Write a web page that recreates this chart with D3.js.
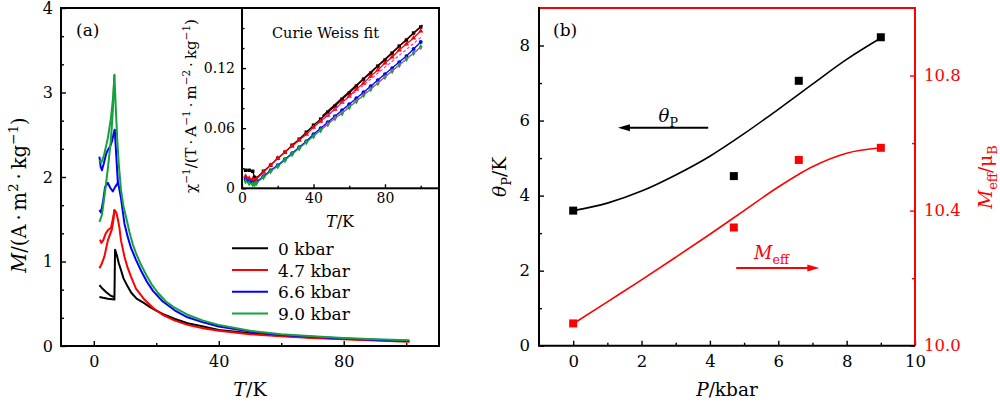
<!DOCTYPE html>
<html>
<head>
<meta charset="utf-8">
<script src="https://cdn.jsdelivr.net/npm/d3@7"></script>
<style>
body { margin: 0; background: #fff; }
svg text { font-family: "DejaVu Serif", serif; }
</style>
</head>
<body>
<svg id="chart" width="1000" height="407"></svg>
<script>
// ---- panel (a) data: M(T) per pressure, [T, M] pairs
var pressures = ["0 kbar", "4.7 kbar", "6.6 kbar", "9.0 kbar"];

var m0Lower = [[1.8,0.58],[3,0.57],[4.5,0.56],[6.6,0.55]];
var m0Upper = [[1.8,0.72],[2.5,0.69],[3.9,0.64],[5.2,0.60],[6.4,0.58]];
var m0Tail = [[6.8,1.14],[7.4,1.07],[8,0.98],[8.7,0.90],[9.5,0.80],[10.9,0.70],[12,0.63],[13.7,0.56],[16,0.51],[18,0.46],[20,0.42],[22,0.38],[26,0.32],[30,0.27],[35,0.23],[40,0.19],[50,0.15],[60,0.12],[70,0.10],[80,0.085],[90,0.07],[101,0.055]];

var m47Lower = [[1.8,0.92],[2.5,0.97],[3.4,1.06],[4.5,1.25],[5.2,1.32],[5.8,1.38],[6.3,1.50],[6.6,1.61]];
var m47Upper = [[2.0,1.26],[2.4,1.22],[3.0,1.25],[3.8,1.33],[4.5,1.37],[5.5,1.40],[6.2,1.52],[6.6,1.61]];
var m47Tail = [[6.6,1.61],[7.2,1.58],[7.7,1.50],[8.2,1.40],[8.7,1.25],[9.8,1.06],[10.8,0.93],[11.9,0.82],[13.5,0.68],[16.2,0.55],[19,0.45],[22,0.37],[26,0.30],[30,0.25],[35,0.21],[40,0.18],[50,0.14],[60,0.115],[70,0.095],[80,0.08],[90,0.065],[101,0.05]];

var m66Lower = [[1.8,1.61],[2.3,1.58],[3.0,1.72],[3.6,1.88],[4.5,1.93],[5.3,1.87],[6.1,1.83],[6.8,1.88],[7.7,1.93]];
var m66Upper = [[1.8,2.24],[2.2,2.12],[2.6,2.08],[3.2,2.16],[4.0,2.28],[4.5,2.32],[5.2,2.36],[5.8,2.42],[6.4,2.52],[6.7,2.56]];
var m66Tail = [[6.7,2.56],[7.2,2.25],[7.7,1.95],[8.2,1.85],[8.7,1.75],[9.8,1.45],[10.8,1.30],[11.9,1.16],[13.5,1.02],[15,0.90],[17,0.76],[19,0.65],[22,0.53],[26,0.42],[30,0.34],[35,0.28],[40,0.23],[50,0.17],[60,0.13],[70,0.11],[80,0.09],[90,0.075],[101,0.06]];

var m90Lower = [[1.8,1.47],[2.6,1.55],[3.4,1.77],[4.5,2.10],[5.5,2.45],[6.1,2.79],[6.6,3.21]];
var m90Upper = [[1.8,2.20],[2.4,2.17],[3.2,2.25],[4.5,2.46],[5.5,2.70],[6.2,2.95],[6.6,3.21]];
var m90Tail = [[6.6,3.21],[7.0,2.85],[7.5,2.45],[8.0,2.15],[8.7,1.85],[9.5,1.65],[10.5,1.50],[11.4,1.35],[12.5,1.20],[13.5,1.10],[15,0.97],[16.8,0.84],[18.5,0.73],[20.5,0.63],[23,0.53],[26,0.45],[30,0.37],[35,0.30],[40,0.25],[50,0.18],[60,0.14],[70,0.115],[80,0.095],[90,0.08],[101,0.068]];

var yTicksA = [0, 1, 2, 3, 4];
var xTicksA = [0, 40, 80];

// ---- inset data: inverse susceptibility
var insetT = [2,4,6,7,8,12,16,20,24,28,32,36,40,44,48,52,56,60,64,68,72,76,80,84,88,92,96,100];
var chiBlack = [0.018,0.018,0.017,0.011,0.010,0.017,0.023,0.030,0.036,0.043,0.049,0.056,0.063,0.069,0.076,0.082,0.089,0.095,0.102,0.109,0.115,0.122,0.128,0.135,0.142,0.148,0.155,0.161];
var chiRed = [0.012,0.010,0.009,0.008,0.009,0.016,0.023,0.030,0.036,0.042,0.048,0.054,0.061,0.067,0.073,0.079,0.086,0.092,0.099,0.105,0.112,0.118,0.125,0.131,0.138,0.144,0.150,0.157];
var chiBlue = [0.009,0.007,0.006,0.005,0.006,0.012,0.018,0.023,0.029,0.035,0.041,0.047,0.054,0.060,0.066,0.072,0.078,0.084,0.090,0.096,0.102,0.108,0.114,0.120,0.126,0.132,0.139,0.146];
var chiGreen = [0.007,0.005,0.004,0.004,0.005,0.011,0.017,0.022,0.028,0.034,0.040,0.046,0.052,0.058,0.064,0.070,0.075,0.081,0.087,0.093,0.099,0.105,0.111,0.117,0.123,0.129,0.135,0.141];
var fitT = [45, 101];
var fitBlack = [0.072, 0.163];
var fitRed = [0.069, 0.152];
var fitGreen = [0.060, 0.142];

// ---- panel (b) data
var pMeas = [0, 4.7, 6.6, 9];
var thetaP = [3.6, 4.52, 7.06, 8.22];
var mEff = [10.066, 10.35, 10.55, 10.586];
var fitP = [0, 1, 2, 3, 4, 5, 6, 7, 8, 9];
var fitTheta = [3.6, 3.8, 4.12, 4.55, 5.05, 5.65, 6.3, 6.97, 7.63, 8.2];
var fitMeff = [10.065, 10.13, 10.195, 10.262, 10.33, 10.40, 10.47, 10.53, 10.57, 10.586];

var colors = ["#000000", "#ff0000", "#0000ff", "#17a03f"];
var dot = "\u2009·\u2009";

var svg = d3.select("#chart");
svg.append("rect").attr("width", 1000).attr("height", 407).attr("fill", "#fff");

function axisStyle(g, size) {
    g.select(".domain").remove();
    g.selectAll(".tick line").attr("stroke-width", 1.4);
    g.selectAll("text").style("font-size", size + "px");
}

// text with italic / sub / sup pieces
function rich(t, parts, size) {
    var cur = 0;
    parts.forEach(function(p) {
        var flags = (p[1] || "").split(" ");
        var target = 0, fs = size;
        if (flags.indexOf("sup") >= 0) { target = -size * 0.42; fs = size * 0.7; }
        if (flags.indexOf("sub") >= 0) { target = size * 0.28; fs = size * 0.7; }
        var s = t.append("tspan").text(p[0])
            .style("font-size", fs + "px")
            .attr("dy", target - cur);
        if (flags.indexOf("i") >= 0) s.style("font-style", "italic");
        cur = target;
    });
    return t;
}

// ================= panel (a)
var xa = d3.scaleLinear().domain([-10.5, 110.5]).range([61, 439]),
    ya = d3.scaleLinear().domain([0, 4]).range([346, 8]);

var lineA = d3.line()
    .x(function(d) { return xa(d[0]); })
    .y(function(d) { return ya(d[1]); });

var curves = [
    [m0Lower.concat(m0Tail), m0Upper],
    [m47Lower.concat(m47Tail), m47Upper],
    [m66Lower.concat(m66Tail), m66Upper],
    [m90Lower.concat(m90Tail), m90Upper]
];

var ga = svg.append("g");
curves.forEach(function(c, i) {
    c.forEach(function(pts) {
        ga.append("path")
            .datum(pts)
            .attr("fill", "none")
            .attr("stroke", colors[i])
            .attr("stroke-width", 2)
            .attr("stroke-linejoin", "round")
            .attr("d", lineA);
    });
});

svg.append("g")
    .attr("transform", "translate(0,346)")
    .call(d3.axisBottom(xa).tickValues(xTicksA).tickSizeInner(-5).tickSizeOuter(0).tickPadding(10))
    .call(axisStyle, 16);
svg.append("g")
    .attr("transform", "translate(0,346)")
    .call(d3.axisBottom(xa).tickValues([20, 60, 100]).tickSizeInner(-3).tickSizeOuter(0).tickFormat(""))
    .call(axisStyle, 16);
svg.append("g")
    .attr("transform", "translate(61,0)")
    .call(d3.axisLeft(ya).tickValues(yTicksA).tickSizeInner(-5).tickSizeOuter(0).tickPadding(8)
        .tickFormat(d3.format("d")))
    .call(axisStyle, 16);
svg.append("g")
    .attr("transform", "translate(61,0)")
    .call(d3.axisLeft(ya).tickValues([1/3, 2/3, 4/3, 5/3, 7/3, 8/3, 10/3, 11/3]).tickSizeInner(-3).tickSizeOuter(0).tickFormat(""))
    .call(axisStyle, 16);

svg.append("rect")
    .attr("x", 61).attr("y", 8).attr("width", 378).attr("height", 338)
    .attr("fill", "none").attr("stroke", "#000").attr("stroke-width", 2);

svg.append("text").attr("x", 76).attr("y", 36).style("font-size", "17px").text("(a)");

rich(svg.append("text").attr("x", 250).attr("y", 396).attr("text-anchor", "middle"),
    [["T", "i"], ["/K"]], 19);
rich(svg.append("text").attr("transform", "translate(26,195) rotate(-90)").attr("text-anchor", "middle"),
    [["M", "i"], ["/(A" + dot + "m"], ["2", "sup"], [dot + "kg"], ["−1", "sup"], [")"]], 19.5);

// legend
pressures.forEach(function(p, i) {
    var y = 248.3 + i * 21.7;
    svg.append("line").attr("x1", 232).attr("x2", 268).attr("y1", y).attr("y2", y)
        .attr("stroke", colors[i]).attr("stroke-width", 2);
    svg.append("text").attr("x", 278).attr("y", y + 6.5).style("font-size", "17px").text(p);
});

// ================= inset
var xi = d3.scaleLinear().domain([0, 110]).range([242, 438.6]),
    yi = d3.scaleLinear().domain([0, 0.18]).range([188.3, 8]);

svg.append("rect")
    .attr("x", 242).attr("y", 8).attr("width", 197).attr("height", 180.3)
    .attr("fill", "#fff");

var gi = svg.append("g");
var chiSets = [chiBlack, chiRed, chiBlue, chiGreen];
var symbols = [d3.symbolSquare, d3.symbolTriangle, d3.symbolCircle, d3.symbolDiamond];
var lineI = d3.line()
    .x(function(d) { return xi(d[0]); })
    .y(function(d) { return yi(d[1]); });

chiSets.forEach(function(vals, i) {
    var pts = insetT.map(function(t, k) { return [t, vals[k]]; });
    gi.append("path").datum(pts)
        .attr("fill", "none").attr("stroke", colors[i]).attr("stroke-width", 1.3)
        .attr("d", lineI);
    gi.selectAll(null).data(pts).enter().append("path")
        .attr("transform", function(d) { return "translate(" + xi(d[0]) + "," + yi(d[1]) + ")"; })
        .attr("d", d3.symbol().type(symbols[i]).size(12))
        .attr("fill", colors[i]);
});

[[fitRed, "#ff33cc"], [fitGreen, "#ff33cc"]].forEach(function(f) {
    gi.append("path").datum(fitT.map(function(t, k) { return [t, f[0][k]]; }))
        .attr("fill", "none").attr("stroke", f[1]).attr("stroke-width", 1.2)
        .attr("stroke-dasharray", "3,2").attr("d", lineI);
});
gi.append("path").datum(fitT.map(function(t, k) { return [t, fitBlack[k]]; }))
    .attr("fill", "none").attr("stroke", "#3a0000").attr("stroke-width", 1.6)
    .attr("d", lineI);

svg.append("g")
    .attr("transform", "translate(0,188.3)")
    .call(d3.axisBottom(xi).tickValues([0, 40, 80]).tickSizeInner(-4).tickSizeOuter(0).tickPadding(5))
    .call(axisStyle, 14);
svg.append("g")
    .attr("transform", "translate(0,188.3)")
    .call(d3.axisBottom(xi).tickValues([20, 60, 100]).tickSizeInner(-2.5).tickSizeOuter(0).tickFormat(""))
    .call(axisStyle, 14);
svg.append("g")
    .attr("transform", "translate(242,0)")
    .call(d3.axisLeft(yi).tickValues([0, 0.06, 0.12]).tickSizeInner(-4).tickSizeOuter(0).tickPadding(7)
        .tickFormat(function(d) { return d === 0 ? "0" : d3.format(".2f")(d); }))
    .call(axisStyle, 14);
svg.append("g")
    .attr("transform", "translate(242,0)")
    .call(d3.axisLeft(yi).tickValues([0.02, 0.04, 0.08, 0.10, 0.14, 0.16]).tickSizeInner(-2.5).tickSizeOuter(0).tickFormat(""))
    .call(axisStyle, 14);

svg.append("rect")
    .attr("x", 242).attr("y", 8).attr("width", 197).attr("height", 180.3)
    .attr("fill", "none").attr("stroke", "#000").attr("stroke-width", 2);

svg.append("text").attr("x", 272).attr("y", 37.5).style("font-size", "14.5px").text("Curie Weiss fit");
rich(svg.append("text").attr("x", 340).attr("y", 226.5).attr("text-anchor", "middle"),
    [["T", "i"], ["/K"]], 16);
rich(svg.append("text").attr("transform", "translate(196,106) rotate(-90)").attr("text-anchor", "middle"),
    [["χ"], ["−1", "sup"], ["/(T" + dot + "A"], ["−1", "sup"], [dot + "m"], ["−2", "sup"], [dot + "kg"], ["−1", "sup"], [")"]], 15);

// ================= panel (b)
var xb = d3.scaleLinear().domain([-1, 10]).range([539, 915]),
    yb = d3.scaleLinear().domain([0, 9]).range([345.7, 8]),
    yr = d3.scaleLinear().domain([10, 11]).range([345.7, 8]);

var lineTheta = d3.line().curve(d3.curveMonotoneX)
    .x(function(d) { return xb(d[0]); })
    .y(function(d) { return yb(d[1]); });
var lineMeff = d3.line().curve(d3.curveMonotoneX)
    .x(function(d) { return xb(d[0]); })
    .y(function(d) { return yr(d[1]); });

svg.append("path")
    .datum(fitP.map(function(p, k) { return [p, fitTheta[k]]; }))
    .attr("fill", "none").attr("stroke", "#000").attr("stroke-width", 1.6)
    .attr("d", lineTheta);
svg.append("path")
    .datum(fitP.map(function(p, k) { return [p, fitMeff[k]]; }))
    .attr("fill", "none").attr("stroke", "#ff0000").attr("stroke-width", 1.6)
    .attr("d", lineMeff);

svg.selectAll(".sqT").data(pMeas).enter().append("rect")
    .attr("x", function(d) { return xb(d) - 4; })
    .attr("y", function(d, i) { return yb(thetaP[i]) - 4; })
    .attr("width", 8).attr("height", 8).attr("fill", "#000");
svg.selectAll(".sqM").data(pMeas).enter().append("rect")
    .attr("x", function(d) { return xb(d) - 4; })
    .attr("y", function(d, i) { return yr(mEff[i]) - 4; })
    .attr("width", 8).attr("height", 8).attr("fill", "#ff0000");

// arrows
function arrow(x1, x2, y, color) {
    var dir = x2 > x1 ? 1 : -1;
    svg.append("line").attr("x1", x1).attr("x2", x2 - dir * 8).attr("y1", y).attr("y2", y)
        .attr("stroke", color).attr("stroke-width", 2);
    svg.append("path")
        .attr("d", "M" + x2 + "," + y + "L" + (x2 - dir * 12) + "," + (y - 3.5) + "L" + (x2 - dir * 12) + "," + (y + 3.5) + "Z")
        .attr("fill", color);
}
arrow(xb(3.95), xb(1.31), yb(5.81), "#000");
arrow(xb(4.77), xb(7.2), yr(10.23), "#ff0000");

rich(svg.append("text").attr("x", xb(2.78)).attr("y", yb(5.97)).attr("text-anchor", "middle"),
    [["θ", "i"], ["P", "sub"]], 18);
rich(svg.append("text").attr("x", xb(5.8)).attr("y", yr(10.258)).attr("text-anchor", "middle").attr("fill", "#ff0000"),
    [["M", "i"], ["eff", "sub"]], 18);

svg.append("g")
    .attr("transform", "translate(0,345.7)")
    .call(d3.axisBottom(xb).tickValues([0, 2, 4, 6, 8, 10]).tickSizeInner(-5).tickSizeOuter(0).tickPadding(10))
    .call(axisStyle, 16.5);
svg.append("g")
    .attr("transform", "translate(0,345.7)")
    .call(d3.axisBottom(xb).tickValues([1, 3, 5, 7, 9]).tickSizeInner(-3).tickSizeOuter(0).tickFormat(""))
    .call(axisStyle, 16.5);
svg.append("g")
    .attr("transform", "translate(539,0)")
    .call(d3.axisLeft(yb).tickValues([0, 2, 4, 6, 8]).tickSizeInner(-5).tickSizeOuter(0).tickPadding(9))
    .call(axisStyle, 16.5);
svg.append("g")
    .attr("transform", "translate(539,0)")
    .call(d3.axisLeft(yb).tickValues([1, 3, 5, 7]).tickSizeInner(-3).tickSizeOuter(0).tickFormat(""))
    .call(axisStyle, 16.5);
svg.append("g")
    .attr("transform", "translate(915,0)")
    .attr("color", "#ff0000")
    .call(d3.axisRight(yr).tickValues([10.0, 10.4, 10.8]).tickSizeInner(-5).tickSizeOuter(0).tickPadding(9)
        .tickFormat(d3.format(".1f")))
    .call(axisStyle, 16.5);
svg.append("g")
    .attr("transform", "translate(915,0)")
    .attr("color", "#ff0000")
    .call(d3.axisRight(yr).tickValues([10.2, 10.6]).tickSizeInner(-3).tickSizeOuter(0).tickFormat(""))
    .call(axisStyle, 16.5);

// frame of (b): top/right red, left/bottom black
svg.append("path").attr("d", "M539,8H915V345.7").attr("fill", "none")
    .attr("stroke", "#ff0000").attr("stroke-width", 2);
svg.append("path").attr("d", "M539,7V345.7H915").attr("fill", "none")
    .attr("stroke", "#000").attr("stroke-width", 2);

svg.append("text").attr("x", 553).attr("y", 36).style("font-size", "17px").text("(b)");

rich(svg.append("text").attr("x", 727).attr("y", 396).attr("text-anchor", "middle"),
    [["P", "i"], ["/kbar"]], 18.5);
rich(svg.append("text").attr("transform", "translate(506,177) rotate(-90)").attr("text-anchor", "middle"),
    [["θ", "i"], ["P", "sub"], ["/K"]], 18.5);
rich(svg.append("text").attr("transform", "translate(992,177) rotate(-90)").attr("text-anchor", "middle").attr("fill", "#ff0000"),
    [["M", "i"], ["eff", "sub"], ["/μ"], ["B", "sub"]], 18.5);
</script>
</body>
</html>
